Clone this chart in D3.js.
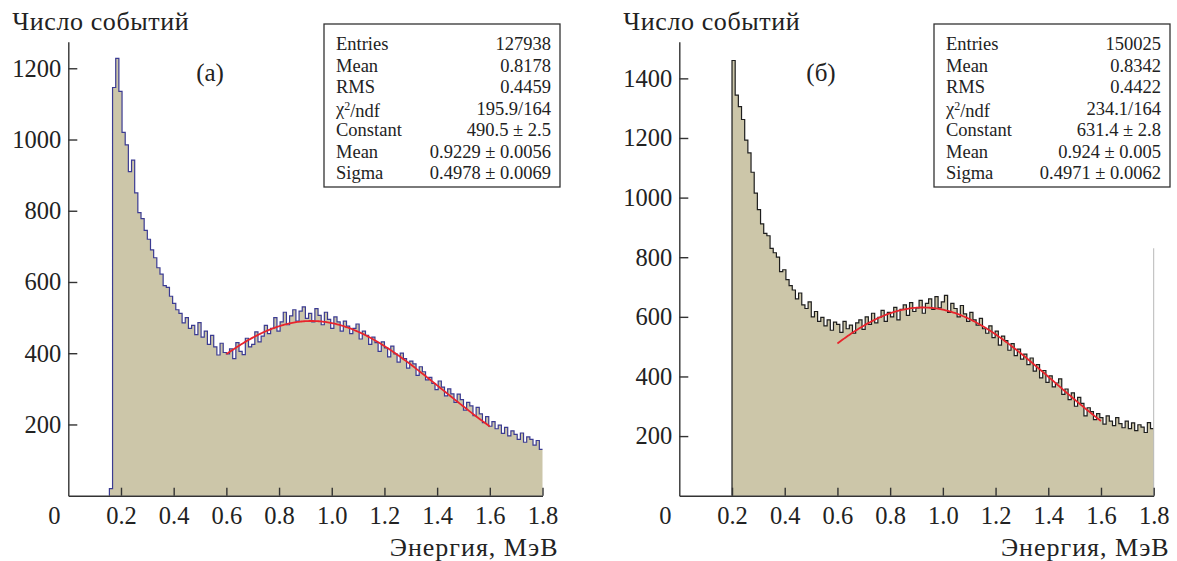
<!DOCTYPE html>
<html>
<head>
<meta charset="utf-8">
<script src="https://cdn.jsdelivr.net/npm/d3@7"></script>
<style>
  body { margin: 0; background: #fff; }
  svg { display: block; }
  svg text { font-family: "Liberation Serif", "Tinos", "Times New Roman", "DejaVu Serif", serif; fill: #222; }
</style>
</head>
<body>
<svg id="chart" width="1177" height="561"></svg>
<script>
// Energy axis ticks (MeV) and count-axis ticks for both panels
const energyTicks = [0.2, 0.4, 0.6, 0.8, 1.0, 1.2, 1.4, 1.6, 1.8];
const countTicksA = [200, 400, 600, 800, 1000, 1200];
const countTicksB = [200, 400, 600, 800, 1000, 1200, 1400];

// Panel (а): spectrum, 137 bins of 0.012 MeV from 0.156 to 1.8 MeV
const binRangeA = [0.156, 1.8];
const countsA = [
  20, 1146, 1228, 1135, 1020, 985, 910, 942, 850, 795,
  778, 745, 720, 690, 668, 640, 622, 590, 585, 560,
  540, 522, 512, 485, 500, 470, 478, 452, 486, 445,
  462, 425, 450, 418, 395, 428, 402,
  398, 412, 385, 430, 405, 396, 442, 418, 425, 460,
  432, 448, 478, 455, 470, 500, 462, 488, 515, 480,
  505, 522, 490, 518,
  530, 498, 512, 488, 525, 506, 480, 515, 495, 470,
  502, 488, 462, 490, 476, 455, 470, 482, 440, 462,
  450, 425, 445, 430, 405, 432, 415, 390, 420, 398,
  375, 400, 385, 358, 378, 370, 338, 362, 348, 325,
  332, 315, 298, 322, 305, 280, 300, 286, 262, 285,
  270, 240, 262, 252, 225, 248, 230, 205, 222, 195,
  208, 188, 198, 175, 192, 168, 182, 172, 158, 176,
  150, 165, 158, 142, 155, 130
];

// Panel (б): spectrum, 133 bins from 0.2 to 1.8 MeV
const binRangeB = [0.2, 1.8];
const countsB = [
  1460, 1344, 1305, 1262, 1193, 1150, 1085, 1015, 960, 912,
  880, 872, 830, 815, 800, 752, 758, 725, 705, 690,
  660, 680, 640, 628, 650, 600, 618, 585, 598, 570,
  590, 555, 582, 575, 548, 585, 560, 572, 545, 580,
  590, 558, 600, 575, 612, 580, 598, 622, 585, 615,
  600, 632, 590, 625, 640, 605, 648, 618, 630, 655,
  612, 645, 660, 625, 668, 630, 650, 672, 615, 645,
  628, 600, 638, 610, 585, 615, 590, 572, 595, 560,
  545, 570, 530, 552, 505, 535, 520, 488, 510, 470,
  492, 458, 475, 440, 462, 418, 440, 395, 420, 380,
  402, 365, 378, 392, 340, 358, 322, 345, 300, 330,
  310, 268, 295, 282, 255, 275, 262, 240, 268, 250,
  235, 262, 242, 228, 250, 225, 244, 218, 238, 230,
  212, 245, 225
];

// Gaussian fit parameters: constant, mean, sigma; fit range in MeV
const fitA = [490.5, 0.9229, 0.4978];
const fitB = [631.4, 0.924, 0.4971];
const fitRange = [0.6, 1.6];

// Statistics box rows
const statsA = [
  ["Entries", "127938"], ["Mean", "0.8178"], ["RMS", "0.4459"],
  ["χ2/ndf", "195.9/164"], ["Constant", "490.5 ± 2.5"],
  ["Mean", "0.9229 ± 0.0056"], ["Sigma", "0.4978 ± 0.0069"]
];
const statsB = [
  ["Entries", "150025"], ["Mean", "0.8342"], ["RMS", "0.4422"],
  ["χ2/ndf", "234.1/164"], ["Constant", "631.4 ± 2.8"],
  ["Mean", "0.924 ± 0.005"], ["Sigma", "0.4971 ± 0.0062"]
];

const SERIF = '"Liberation Serif", "Tinos", "Times New Roman", "DejaVu Serif", serif';
const svg = d3.select("#chart").attr("font-family", SERIF);
const FILL = "#ccc6a9";

function drawPanel(o) {
  const g = svg.append("g");
  const x = d3.scaleLinear().domain([0, 1.8]).range([o.left, o.right]);
  const y = d3.scaleLinear().domain([0, o.yMax]).range([495.7, 41.7]);

  // Histogram as steps
  const n = o.counts.length;
  const w = (o.bins[1] - o.bins[0]) / n;
  const pts = [{ e: o.bins[0], c: 0 }]
    .concat(o.counts.map((c, i) => ({ e: o.bins[0] + i * w, c })))
    .concat([{ e: o.bins[1], c: o.counts[n - 1] }]);

  g.append("path")
    .datum(pts)
    .attr("fill", FILL)
    .attr("d", d3.area().curve(d3.curveStepAfter)
      .x(d => x(d.e)).y0(y(0)).y1(d => y(d.c)));

  g.append("path")
    .datum(pts)
    .attr("fill", "none")
    .attr("stroke", o.lineColor)
    .attr("stroke-width", 1.2)
    .attr("d", d3.line().curve(d3.curveStepAfter)
      .x(d => x(d.e)).y(d => y(d.c)));

  if (o.edgeLine) {
    g.append("line")
      .attr("x1", x(1.8)).attr("x2", x(1.8))
      .attr("y1", y(o.edgeLine)).attr("y2", y(0))
      .attr("stroke", "#b8b8b8").attr("stroke-width", 1);
  }

  // Gaussian fit curve over the fit range
  const [C, mu, sig] = o.fit;
  const fx = d3.range(0, 201).map(k => fitRange[0] + k * (fitRange[1] - fitRange[0]) / 200);
  g.append("path")
    .datum(fx)
    .attr("fill", "none")
    .attr("stroke", "#e8242c")
    .attr("stroke-width", 1.8)
    .attr("d", d3.line()
      .x(d => x(d))
      .y(d => y(C * Math.exp(-0.5 * Math.pow((d - mu) / sig, 2)))));

  // Axes
  const xAxis = d3.axisBottom(x).tickValues(energyTicks)
    .tickFormat(d3.format(".1f")).tickSizeInner(-8).tickSizeOuter(0).tickPadding(11);
  const gx = g.append("g").attr("transform", `translate(0,${y(0)})`).call(xAxis);
  const yAxis = d3.axisLeft(y).tickValues(o.yTicks)
    .tickFormat(d3.format("d")).tickSizeInner(-9).tickSizeOuter(0).tickPadding(7);
  const gy = g.append("g").attr("transform", `translate(${x(0)},0)`).call(yAxis);

  [gx, gy].forEach(a => {
    a.attr("font-family", SERIF).attr("font-size", 24.5);
    a.select(".domain").attr("stroke", "#333").attr("stroke-width", 1.4);
    a.selectAll(".tick line").attr("stroke", "#333").attr("stroke-width", 1.4);
    a.selectAll(".tick text").attr("fill", "#222");
  });

  // Origin label
  g.append("text").attr("x", x(0) - 14).attr("y", y(0) + 28.5)
    .attr("text-anchor", "middle").attr("font-size", 24.5).text("0");

  // Axis titles
  g.append("text").attr("x", o.left - 56).attr("y", 30)
    .attr("font-size", 26).attr("letter-spacing", 0.6).text("Число событий");
  g.append("text").attr("x", o.right + 16).attr("y", 556)
    .attr("text-anchor", "end").attr("font-size", 26).attr("letter-spacing", 1)
    .text("Энергия, МэВ");

  // Panel tag
  g.append("text").attr("x", o.tagX).attr("y", 72).attr("dy", "0.35em")
    .attr("text-anchor", "middle").attr("font-size", 25).text(o.tag);

  // Statistics box
  const bx = o.boxX, by = 24, bw = 236, bh = 163;
  g.append("rect").attr("x", bx).attr("y", by).attr("width", bw).attr("height", bh)
    .attr("fill", "#fff").attr("stroke", "#333").attr("stroke-width", 1.3);
  o.stats.forEach((r, i) => {
    const ty = 44 + i * 21.5;
    const lab = g.append("text").attr("x", bx + 12).attr("y", ty).attr("dy", "0.33em")
      .attr("font-size", 18.5);
    if (r[0].startsWith("χ2")) {
      lab.append("tspan").text("χ");
      lab.append("tspan").attr("dy", "-0.4em").attr("font-size", 12).text("2");
      lab.append("tspan").attr("dy", "0.4em").text("/ndf");
    } else {
      lab.text(r[0]);
    }
    g.append("text").attr("x", bx + bw - 9).attr("y", ty).attr("dy", "0.33em")
      .attr("text-anchor", "end").attr("font-size", 18.5).text(r[1]);
  });
}

drawPanel({
  left: 68.3, right: 542.5, yMax: 1274.6, yTicks: countTicksA,
  bins: binRangeA, counts: countsA, lineColor: "#3b3b92",
  fit: fitA, tag: "(а)", tagX: 210, boxX: 324, stats: statsA
});

drawPanel({
  left: 679.3, right: 1153.7, yMax: 1523, yTicks: countTicksB,
  bins: binRangeB, counts: countsB, lineColor: "#1e1e1e",
  fit: fitB, tag: "(б)", tagX: 821, boxX: 934, stats: statsB, edgeLine: 830
});
</script>
</body>
</html>
